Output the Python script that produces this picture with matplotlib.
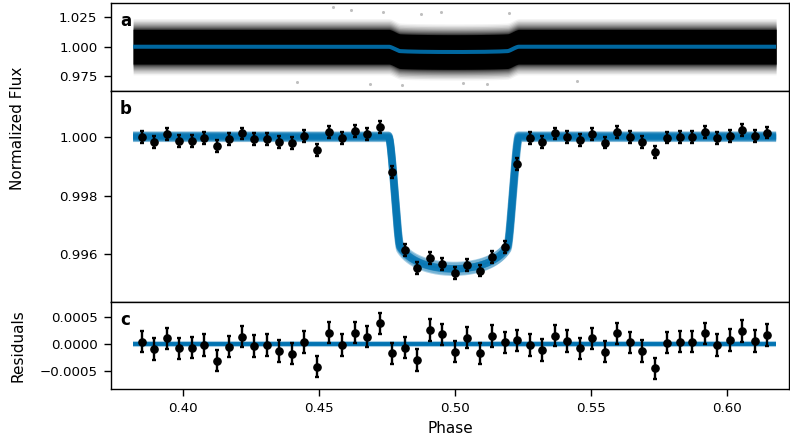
import numpy as np
import matplotlib
matplotlib.use("Agg")
import matplotlib.pyplot as plt
from matplotlib.ticker import FuncFormatter

# ---------------- data ----------------
# binned phase-folded light curve (panel b) and residuals (panel c)
bin_phase_start = 0.385
bin_step = 0.0046
n_bins = 51
bin_flux = [1.00000, 0.99983, 1.00008, 0.99985, 0.99986, 0.99995, 0.99968, 0.99991,
            1.00011, 0.99991, 0.99993, 0.99981, 0.99978, 1.00002, 0.99954, 1.00017,
            0.99995, 1.00020, 1.00009, 1.00034, 0.99881, 0.99614, 0.99553, 0.99589,
            0.99568, 0.99538, 0.99564, 0.99545, 0.99592, 0.99624, 0.99906, 0.99995,
            0.99983, 1.00011, 1.00000, 0.99989, 1.00008, 0.99980, 1.00017, 0.99999,
            0.99983, 0.99949, 0.99997, 1.00000, 1.00000, 1.00017, 0.99995, 1.00003,
            1.00023, 1.00002, 1.00014]
bin_resid = [0.000044, -0.000094, 0.000106, -0.000080, -0.000070, -0.000020, -0.000310,
             -0.000050, 0.000137, -0.000040, -0.000020, -0.000130, -0.000180, 0.000040,
             -0.000425, 0.000212, -0.000020, 0.000210, 0.000137, 0.000390, -0.000175,
             -0.000070, -0.000300, 0.000260, 0.000180, -0.000144, 0.000118, -0.000175,
             0.000150, 0.000030, 0.000070, -0.000020, -0.000110, 0.000155, 0.000056,
             -0.000080, 0.000106, -0.000144, 0.000200, 0.000030, -0.000130, -0.000456,
             0.000025, 0.000044, 0.000044, 0.000200, -0.000020, 0.000075, 0.000243,
             0.000056, 0.000170]
bin_err = 0.0002

# transit model parameters (fitted curve shape)
t0 = 0.4997          # mid-transit phase
k_rp = 0.065         # planet/star radius ratio
b_imp = 0.546        # impact parameter
phase_scale = 38.34  # stellar radii travelled per unit phase
u1, u2 = 0.25, 0.10  # quadratic limb darkening
phase_min, phase_max = 0.3818, 0.6182

# posterior-draw style variations for the model band
draw_dbase = [0.0, -6e-5, 6e-5, -3e-5, 3e-5, -4.5e-5, 4.5e-5, -1.5e-5, 1.5e-5]
draw_depth = [1.0, 0.985, 1.015, 1.02, 0.98, 1.01, 0.99, 0.995, 1.005]
draw_dt0 = [0.0, 0.0002, -0.0002, -0.0001, 0.0001, 0.00015, -0.00015, 0.00005, -0.00005]

# raw-data cloud envelope (panel a): half widths and opacities
cloud_half = [0.0240, 0.0228, 0.0216, 0.0204, 0.0193, 0.0183, 0.0173, 0.0164,
              0.0156, 0.0148]
cloud_alpha = [0.05, 0.07, 0.09, 0.11, 0.13, 0.15, 0.18, 0.22, 0.30, 1.0]
outlier_phase = [0.4554, 0.4737, 0.4878, 0.4805, 0.4620, 0.5030, 0.4420, 0.4690,
                 0.5200, 0.5450, 0.4950, 0.5120]
outlier_flux = [1.0341, 1.0299, 1.0279, 0.9673, 1.0310, 0.9690, 0.9700, 0.9685,
                1.0290, 0.9705, 1.0300, 0.9680]

BLUE = "#0173B2"


def transit(ph, t0_, depth_fac=1.0):
    x = (np.asarray(ph) - t0_) * phase_scale
    z = np.sqrt(b_imp ** 2 + x ** 2)
    k = k_rp
    area = np.zeros_like(z)
    full = z <= 1 - k
    area[full] = np.pi * k ** 2
    part = (z > 1 - k) & (z < 1 + k)
    zp = z[part]
    c0 = np.clip((k ** 2 + zp ** 2 - 1) / (2 * k * zp), -1, 1)
    c1 = np.clip((1 - k ** 2 + zp ** 2) / (2 * zp), -1, 1)
    sq = np.sqrt(np.clip(4 * zp ** 2 - (1 + zp ** 2 - k ** 2) ** 2, 0, None))
    area[part] = k ** 2 * np.arccos(c0) + np.arccos(c1) - 0.5 * sq
    r = np.where(z <= 1 - k, z, (z - k + 1) / 2)
    r = np.clip(r, 0, 1)
    mu = np.sqrt(1 - r ** 2)
    inten = 1 - u1 * (1 - mu) - u2 * (1 - mu) ** 2
    iavg = 1 - u1 / 3 - u2 / 6
    return 1 - depth_fac * area / np.pi * inten / iavg


bin_phase = bin_phase_start + bin_step * np.arange(n_bins)
grid = np.linspace(phase_min, phase_max, 3000)
model = transit(grid, t0)

plt.rcParams["font.family"] = ["DejaVu Sans"]
plt.rcParams["font.size"] = 9.6

fig = plt.figure(figsize=(7.9, 4.44), dpi=100)
gs = fig.add_gridspec(3, 1, left=0.140, right=0.999, top=0.9925, bottom=0.1232,
                      hspace=0, height_ratios=[87.4, 211.6, 87.0])
ax_a = fig.add_subplot(gs[0])
ax_b = fig.add_subplot(gs[1], sharex=ax_a)
ax_c = fig.add_subplot(gs[2], sharex=ax_a)

# ---- panel a ----
for hw, al in zip(cloud_half, cloud_alpha):
    ax_a.fill_between(grid, model - hw, model + hw, color="black", alpha=al,
                      linewidth=0, zorder=1)
ax_a.scatter(outlier_phase, outlier_flux, s=5, color="black", alpha=0.25,
             linewidths=0, zorder=1)
ax_a.plot(grid, model, color=BLUE, lw=2.9, alpha=0.9, zorder=3,
          solid_capstyle="butt")
ax_a.set_ylim(0.96246, 1.03703)
ax_a.set_yticks([0.975, 1.000, 1.025])
ax_a.yaxis.set_major_formatter(FuncFormatter(lambda v, p: f"{v:.3f}"))

# ---- panel b ----
for db, dd, dt in zip(draw_dbase, draw_depth, draw_dt0):
    ax_b.plot(grid, transit(grid, t0 + dt, dd) + db, color=BLUE, lw=5.2,
              alpha=0.32, zorder=2, solid_capstyle="butt")
ax_b.errorbar(bin_phase, bin_flux, yerr=bin_err, fmt="o", color="black",
              ms=5.2, elinewidth=1.7, capsize=1.5, capthick=1.7, zorder=5)
ax_b.set_ylim(0.994372, 1.001563)
ax_b.set_yticks([0.996, 0.998, 1.000])
ax_b.yaxis.set_major_formatter(FuncFormatter(lambda v, p: f"{v:.3f}"))

# ---- panel c ----
ax_c.plot([phase_min, phase_max], [0, 0], color=BLUE, lw=4.4, alpha=0.35,
          zorder=2, solid_capstyle="butt")
ax_c.plot([phase_min, phase_max], [0, 0], color=BLUE, lw=2.8, zorder=2,
          solid_capstyle="butt")
ax_c.errorbar(bin_phase, bin_resid, yerr=bin_err, fmt="o", color="black",
              ms=5.2, elinewidth=1.7, capsize=1.5, capthick=1.7, zorder=5)
ax_c.set_ylim(-0.000848, 0.000781)
ax_c.set_yticks([-0.0005, 0.0, 0.0005])
ax_c.yaxis.set_major_formatter(
    FuncFormatter(lambda v, p: f"{v:.4f}".replace("-", "\u2212") if abs(v) > 1e-12 else "0.0000"))

ax_c.set_xlim(0.37353, 0.62301)
ax_c.set_xticks([0.40, 0.45, 0.50, 0.55, 0.60])
ax_c.xaxis.set_major_formatter(FuncFormatter(lambda v, p: f"{v:.2f}"))
ax_c.set_xlabel("Phase", fontsize=11, labelpad=4)

for ax in (ax_a, ax_b, ax_c):
    for sp in ax.spines.values():
        sp.set_linewidth(1.0)
    ax.tick_params(axis="both", which="major", length=5, width=1.0, pad=4.5,
                   labelsize=9.6)
for ax in (ax_a, ax_b):
    ax.tick_params(axis="x", bottom=False, labelbottom=False)

for ax, lab in ((ax_a, "a"), (ax_b, "b"), (ax_c, "c")):
    ax.annotate(lab, xy=(0.0137, 1.0), xycoords="axes fraction",
                xytext=(0, -6.5), textcoords="offset points",
                ha="left", va="top", fontsize=12, fontweight="bold")

fig.text(18 / 790, 1 - 128 / 444, "Normalized Flux", rotation=90,
         ha="center", va="center", fontsize=11)
fig.text(18 / 790, 1 - 346 / 444, "Residuals", rotation=90,
         ha="center", va="center", fontsize=11)

fig.savefig("out.png", dpi=100)
